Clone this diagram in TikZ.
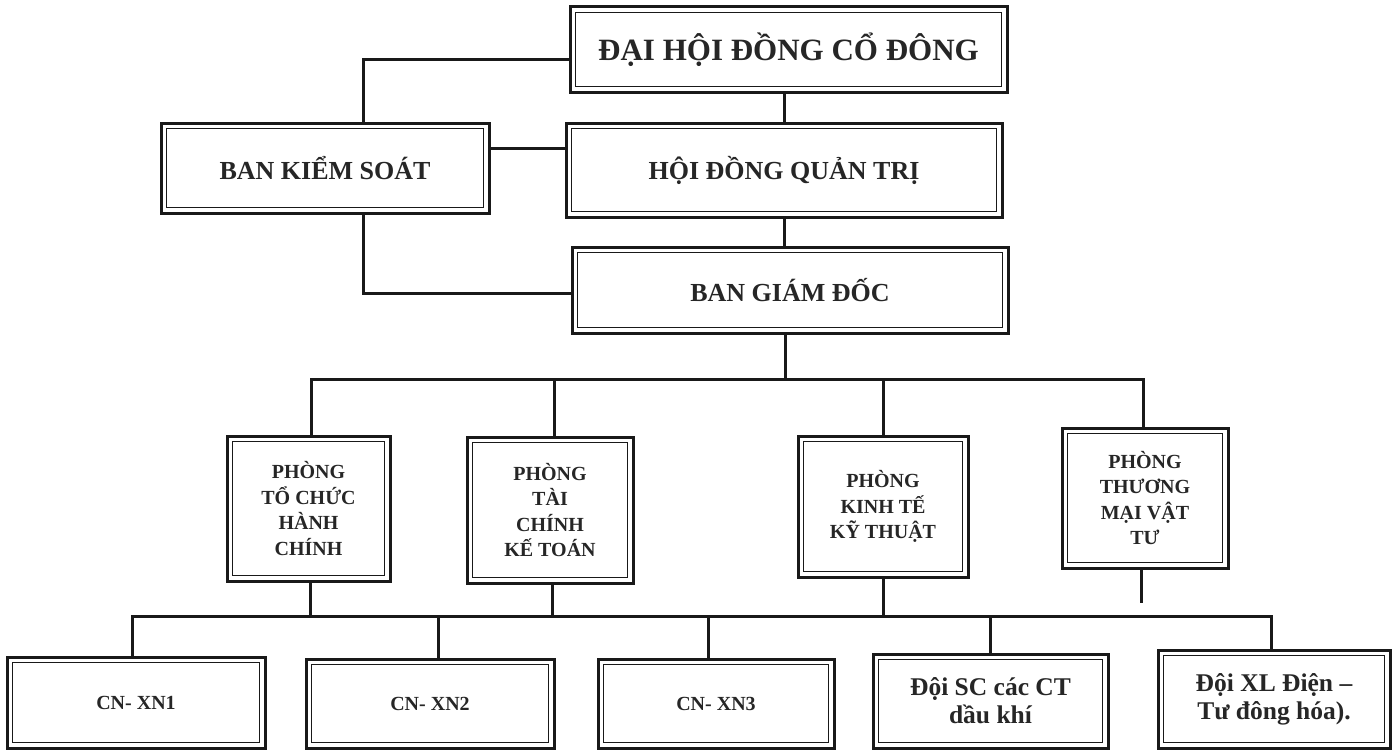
\documentclass[tikz,border=0pt]{standalone}
\usepackage{fontspec}
\setmainfont{Liberation Serif}
\begin{document}
\begin{tikzpicture}[x=1pt,y=-1pt,
  obox/.style={draw=black!90, line width=3pt, inner sep=0pt, outer sep=0pt, align=center, text=black!85, font=\bfseries},
  ibox/.style={draw=black!90, line width=1.6pt},
  conn/.style={draw=black!90, line width=3pt},
  big/.style={font=\fontsize{31}{36}\selectfont\bfseries},
  mid/.style={font=\fontsize{26}{30}\selectfont\bfseries},
  dept/.style={font=\fontsize{20}{25.5}\selectfont\bfseries},
  unit/.style={font=\fontsize{20}{25}\selectfont\bfseries},
  team/.style={font=\fontsize{25.5}{28}\selectfont\bfseries}]
\useasboundingbox[fill=white] (0,0) rectangle (1394,752);
\newcommand\orgbox[6][]{%
  \node[obox,#1,minimum width=#4pt,minimum height=#5pt] (#2) at (#3) {#6};
  \draw[ibox] ([shift={(5.5,5.5)}]#2.north west) rectangle ([shift={(-5.5,-5.5)}]#2.south east);}
% top
\orgbox[big]{dh}{788.5,49.5}{437}{85}{ĐẠI HỘI ĐỒNG CỔ ĐÔNG}
\orgbox[mid]{hd}{784,170}{436}{94}{HỘI ĐỒNG QUẢN TRỊ}
\orgbox[mid]{bgd}{790,290}{436}{86}{BAN GIÁM ĐỐC}
\orgbox[mid]{bks}{325,168}{328}{90}{BAN KIỂM SOÁT}
% departments
\orgbox[dept]{p1}{308.5,508.5}{163}{145}{PHÒNG\\TỔ CHỨC\\HÀNH\\CHÍNH}
\orgbox[dept]{p2}{550,510}{166}{146}{PHÒNG\\TÀI\\CHÍNH\\KẾ TOÁN}
\orgbox[dept]{p3}{883,506.5}{170}{141}{PHÒNG\\KINH TẾ\\KỸ THUẬT}
\orgbox[dept]{p4}{1145,498}{166}{140}{PHÒNG\\THƯƠNG\\MẠI VẬT\\TƯ}
% units
\orgbox[unit]{c1}{136,702.5}{258}{91}{CN- XN1}
\orgbox[unit]{c2}{430,703.5}{248}{89}{CN- XN2}
\orgbox[unit]{c3}{716,703.5}{236}{89}{CN- XN3}
\orgbox[team]{c4}{990.5,701}{235}{94}{Đội SC các CT\\dầu khí}
\orgbox[team]{c5}{1274,699}{232}{98}{Đội XL Điện –\\Tư đông\ hóa).}
% coordinates
\coordinate (kL) at (363,60);
\coordinate (kH) at (0,148);
\coordinate (kB) at (363,293);
\coordinate (bus1) at (785,379);
\coordinate (bus2) at (0,616);
% connectors
\draw[conn] (hd.north) -- (hd.north |- dh.south);
\draw[conn] (dh.west |- kL) -- (kL) -- (kL |- bks.north);
\draw[conn] (bks.east |- kH) -- (hd.west |- kH);
\draw[conn] (kB |- bks.south) -- (kB) -- (bgd.west |- kB);
\draw[conn] (hd.south) -- (hd.south |- bgd.north);
\draw[conn] (bus1 |- bgd.south) -- (bus1);
\draw[conn] ([xshift=3pt]p1.north) -- ([xshift=3pt]p1.north |- bus1) -- ([xshift=-2pt]p4.north |- bus1) -- ([xshift=-2pt]p4.north);
\draw[conn] ([xshift=4pt]p2.north) -- ([xshift=4pt]p2.north |- bus1);
\draw[conn] (p3.north) -- (p3.north |- bus1);
\draw[conn] ([xshift=1.5pt]p1.south) -- ([xshift=1.5pt]p1.south |- bus2);
\draw[conn] ([xshift=2pt]p2.south) -- ([xshift=2pt]p2.south |- bus2);
\draw[conn] (p3.south) -- (p3.south |- bus2);
\draw[conn] ([xshift=-4pt]p4.south) -- ++(0,35);
\draw[conn] ([xshift=-4pt]c1.north) -- ([xshift=-4pt]c1.north |- bus2) -- ([xshift=-3pt]c5.north |- bus2) -- ([xshift=-3pt]c5.north);
\draw[conn] ([xshift=8pt]c2.north) -- ([xshift=8pt]c2.north |- bus2);
\draw[conn] ([xshift=-8pt]c3.north) -- ([xshift=-8pt]c3.north |- bus2);
\draw[conn] (c4.north) -- (c4.north |- bus2);
\end{tikzpicture}
\end{document}
